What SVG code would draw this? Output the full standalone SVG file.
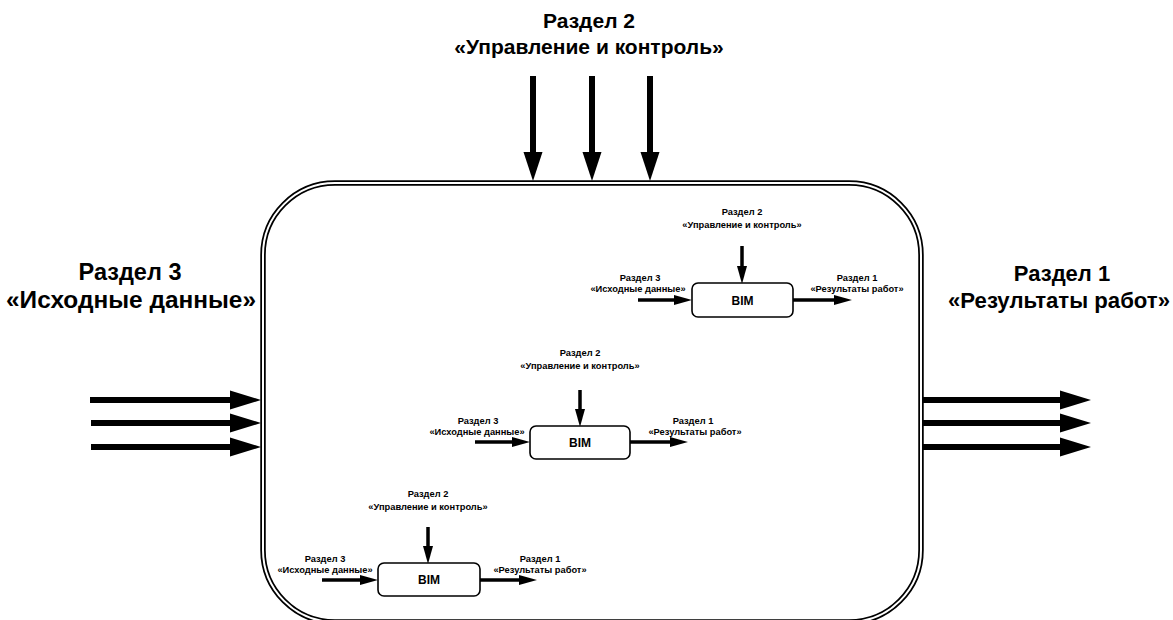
<svg xmlns="http://www.w3.org/2000/svg" width="1173" height="620" viewBox="0 0 1173 620">
<defs>
<style>
text{font-family:"Liberation Sans",Arial,sans-serif;font-weight:bold;fill:#000;text-anchor:middle}
.top{font-size:21px}
.lft{font-size:23.5px}
.rgt{font-size:22px}
.sm{font-size:9.3px}
.bim{font-size:12px}
.box{fill:#fff;stroke:#000;stroke-width:1.6}
.bs{stroke:#000;stroke-width:6;fill:none}
.ss{stroke:#000;stroke-width:3.5;fill:none}
.hd{fill:#000}
</style>
</defs>
<rect width="1173" height="620" fill="#fff"/>
<g id="frame">
<rect x="263" y="183" width="658" height="439" rx="72" ry="72" fill="none" stroke="#000" stroke-width="5.5"/>
<rect x="263" y="183" width="658" height="439" rx="72" ry="72" fill="none" stroke="#fff" stroke-width="2"/>
</g>
<g id="labels-outer">
<text class="top" x="589" y="28">Раздел 2</text>
<text class="top" x="589" y="54">«Управление и контроль»</text>
<text class="lft" x="130" y="280">Раздел 3</text>
<text class="lft" x="131" y="308" textLength="250" lengthAdjust="spacingAndGlyphs">«Исходные данные»</text>
<text class="rgt" x="1062" y="281">Раздел 1</text>
<text class="rgt" x="1059" y="308" textLength="222" lengthAdjust="spacingAndGlyphs">«Результаты работ»</text>
</g>
<g id="connectors">
<line class="bs" x1="533" y1="76" x2="533" y2="155"/><polygon class="hd" points="523.5,152 542.5,152 533,181"/>
<line class="bs" x1="592" y1="76" x2="592" y2="155"/><polygon class="hd" points="582.5,152 601.5,152 592,181"/>
<line class="bs" x1="650" y1="76" x2="650" y2="155"/><polygon class="hd" points="640.5,152 659.5,152 650,181"/>
<line class="bs" x1="90" y1="400" x2="232" y2="400"/><polygon class="hd" points="230,390.5 230,409.5 261,400"/>
<line class="bs" x1="91" y1="423" x2="232" y2="423"/><polygon class="hd" points="230,413.5 230,432.5 261,423"/>
<line class="bs" x1="91" y1="447" x2="232" y2="447"/><polygon class="hd" points="230,437.5 230,456.5 261,447"/>
<line class="bs" x1="922" y1="400" x2="1062" y2="400"/><polygon class="hd" points="1060,390.5 1060,409.5 1091,400"/>
<line class="bs" x1="922" y1="423" x2="1062" y2="423"/><polygon class="hd" points="1060,413.5 1060,432.5 1091,423"/>
<line class="bs" x1="922" y1="447" x2="1062" y2="447"/><polygon class="hd" points="1060,437.5 1060,456.5 1091,447"/>
<line class="ss" x1="742" y1="246" x2="742" y2="268"/><polygon class="hd" points="737,266 747,266 742,284"/>
<line class="ss" x1="638" y1="300" x2="676" y2="300"/><polygon class="hd" points="674,295 674,305 692,300"/>
<line class="ss" x1="793" y1="300" x2="836" y2="300"/><polygon class="hd" points="834,295 834,305 852,300"/>
<line class="ss" x1="580" y1="390" x2="580" y2="411"/><polygon class="hd" points="575,409 585,409 580,427"/>
<line class="ss" x1="475" y1="442" x2="514" y2="442"/><polygon class="hd" points="512,437 512,447 530,442"/>
<line class="ss" x1="630" y1="442" x2="672" y2="442"/><polygon class="hd" points="670,437 670,447 688,442"/>
<line class="ss" x1="428" y1="527" x2="428" y2="548"/><polygon class="hd" points="423,546 433,546 428,564"/>
<line class="ss" x1="322" y1="580" x2="362" y2="580"/><polygon class="hd" points="360,575 360,585 378,580"/>
<line class="ss" x1="480" y1="580" x2="521" y2="580"/><polygon class="hd" points="519,575 519,585 537,580"/>
</g>
<g id="node1">
<rect class="box" x="692" y="283" width="101" height="34" rx="6"/>
<text class="bim" x="742.5" y="305">BIM</text>
<text class="sm" x="742" y="215">Раздел 2</text>
<text class="sm" x="742" y="228">«Управление и контроль»</text>
<text class="sm" x="640" y="281">Раздел 3</text>
<text class="sm" x="638" y="292">«Исходные данные»</text>
<text class="sm" x="857" y="281">Раздел 1</text>
<text class="sm" x="857" y="292">«Результаты работ»</text>
</g>
<g id="node2">
<rect class="box" x="530" y="426" width="100" height="33" rx="6"/>
<text class="bim" x="580" y="447">BIM</text>
<text class="sm" x="580" y="356">Раздел 2</text>
<text class="sm" x="580" y="369">«Управление и контроль»</text>
<text class="sm" x="478" y="424">Раздел 3</text>
<text class="sm" x="477" y="435">«Исходные данные»</text>
<text class="sm" x="693" y="424">Раздел 1</text>
<text class="sm" x="695" y="435">«Результаты работ»</text>
</g>
<g id="node3">
<rect class="box" x="378" y="563" width="102" height="33" rx="6"/>
<text class="bim" x="429" y="584">BIM</text>
<text class="sm" x="428" y="497">Раздел 2</text>
<text class="sm" x="428" y="510">«Управление и контроль»</text>
<text class="sm" x="325" y="562">Раздел 3</text>
<text class="sm" x="325" y="573">«Исходные данные»</text>
<text class="sm" x="540" y="562">Раздел 1</text>
<text class="sm" x="540" y="573">«Результаты работ»</text>
</g>
</svg>
